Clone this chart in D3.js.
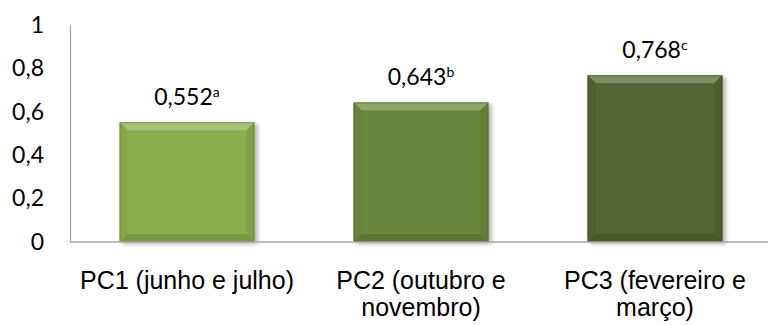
<!DOCTYPE html>
<html><head><meta charset="utf-8">
<script src="https://cdn.jsdelivr.net/npm/d3@7"></script>
<style>html,body{margin:0;padding:0;background:#fff;}svg{display:block;}</style>
</head><body>
<svg id="chart" width="768" height="325"></svg>
<script>
const categories = ["PC1 (junho e julho)", "PC2 (outubro e novembro)", "PC3 (fevereiro e março)"];
const categoryLines = [["PC1 (junho e julho)"], ["PC2 (outubro e", "novembro)"], ["PC3 (fevereiro e", "março)"]];
const values = [0.552, 0.643, 0.768];
const valueLabels = ["0,552", "0,643", "0,768"];
const letters = ["a", "b", "c"];
const barColors = ["#8bad4c", "#6a873c", "#526530"];
const yTicks = [0, 0.2, 0.4, 0.6, 0.8, 1];
const yTickLabels = ["0", "0,2", "0,4", "0,6", "0,8", "1"];

const svg = d3.select("#chart");
const x = d3.scaleBand().domain(categories).range([70, 772]).paddingInner(0.424).paddingOuter(0.212);
const y = d3.scaleLinear().domain([0, 1]).range([242, 25]);

const defs = svg.append("defs");
const sh = defs.append("filter").attr("id", "shadow").attr("x", "-10%").attr("y", "-10%").attr("width", "130%").attr("height", "130%");
sh.append("feGaussianBlur").attr("in", "SourceAlpha").attr("stdDeviation", 2);
sh.append("feOffset").attr("dx", 3).attr("dy", 2).attr("result", "b");
sh.append("feComponentTransfer").append("feFuncA").attr("type", "linear").attr("slope", 0.3);
const m = sh.append("feMerge"); m.append("feMergeNode"); m.append("feMergeNode").attr("in", "SourceGraphic");

// axes
const yAxis = d3.axisLeft(y).tickValues(yTicks).tickSize(0).tickFormat((d, i) => yTickLabels[i]);
const gy = svg.append("g").attr("transform", "translate(70,0)").call(yAxis);
gy.select(".domain").attr("stroke", "#a6a6a6").attr("stroke-width", 1.3);
gy.selectAll("text").attr("x", -26).attr("font-family", "Lato, sans-serif").attr("font-size", 23).attr("fill", "#000");

// bars
const bw = x.bandwidth(), bev = 8;
const g = svg.selectAll(".bar").data(values).enter().append("g").attr("class", "bar").attr("filter", "url(#shadow)");
g.each(function (d, i) {
  const el = d3.select(this);
  const x0 = x(categories[i]), x1 = x0 + bw, y0 = y(d), y1 = y(0);
  const c = d3.color(barColors[i]);
  el.append("rect").attr("x", x0).attr("y", y0).attr("width", bw).attr("height", y1 - y0).attr("fill", c.formatHex());
  const poly = (pts, fill) => el.append("polygon").attr("points", pts.map(p => p.join(",")).join(" ")).attr("fill", fill);
  poly([[x0, y0], [x1, y0], [x1 - bev, y0 + bev], [x0 + bev, y0 + bev]], d3.interpolateRgb(c, "#fff")(0.25));
  poly([[x0, y1], [x1, y1], [x1 - bev, y1 - bev], [x0 + bev, y1 - bev]], c.darker(0.4).formatHex());
  poly([[x0, y0], [x0 + bev, y0 + bev], [x0 + bev, y1 - bev], [x0, y1]], c.darker(0.08).formatHex());
  poly([[x1, y0], [x1 - bev, y0 + bev], [x1 - bev, y1 - bev], [x1, y1]], c.darker(0.2).formatHex());
  el.append("rect").attr("x", x0 + 0.5).attr("y", y0 + 0.5).attr("width", bw - 1).attr("height", y1 - y0 - 1)
    .attr("fill", "none").attr("stroke", c.darker(0.9).formatHex()).attr("stroke-width", 1).attr("stroke-opacity", 0.6);
});

// x axis line
svg.append("line").attr("x1", 70).attr("x2", 768).attr("y1", y(0)).attr("y2", y(0)).attr("stroke", "#a6a6a6").attr("stroke-width", 1.3);

// value labels
const vl = svg.selectAll(".vlabel").data(values).enter().append("text").attr("class", "vlabel")
  .attr("x", (d, i) => x(categories[i]) + bw / 2).attr("y", d => y(d) - 17)
  .attr("text-anchor", "middle").attr("font-family", "Lato, sans-serif").attr("font-size", 23).attr("fill", "#000");
vl.append("tspan").text((d, i) => valueLabels[i]);
vl.append("tspan").attr("dy", -8).attr("font-size", 14).text((d, i) => letters[i]);

// category labels (each line as its own text)
categories.forEach((d, i) => {
  categoryLines[i].forEach((line, j) => {
    svg.append("text").attr("class", "clabel")
      .attr("x", x(d) + bw / 2).attr("y", 289 + j * 27).attr("text-anchor", "middle")
      .attr("font-family", "'Liberation Sans', Arial, sans-serif").attr("font-size", 25).attr("fill", "#000")
      .text(line);
  });
});
</script>
</body></html>
